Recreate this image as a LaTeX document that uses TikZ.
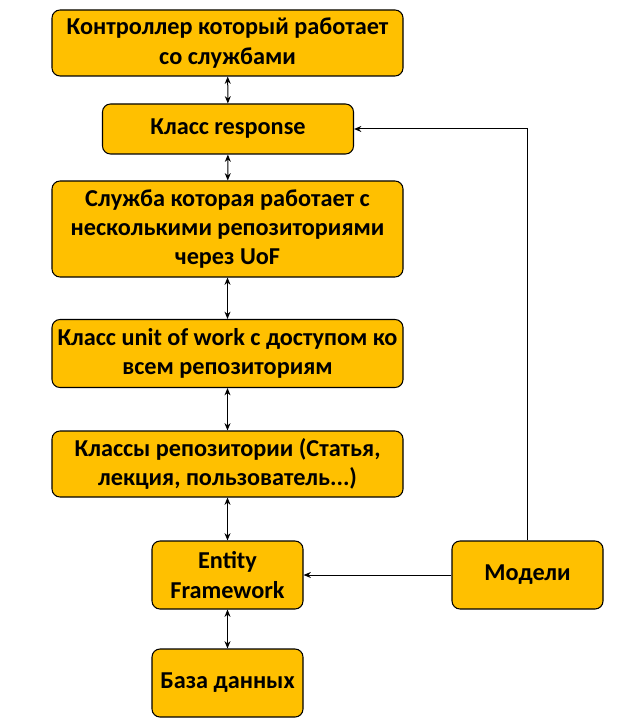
\documentclass[tikz,border=0pt]{standalone}
\usepackage{fontspec}
\setmainfont{Carlito}
\usetikzlibrary{arrows.meta}
\definecolor{boxfill}{HTML}{FFC000}
\tikzset{
    blok/.style={draw=black, line width=0.8pt, fill=boxfill, rounded corners=6pt, align=center, inner sep=0pt,
        font=\fontsize{18.2}{22}\selectfont\bfseries},
    wide/.style={blok, minimum width=263.25pt},
    mid/.style={blok, minimum width=188.25pt},
    small/.style={blok, minimum width=113.25pt, minimum height=51pt},
    dvoj/.style={{Stealth[length=5.5pt,width=4.5pt]}-{Stealth[length=5.5pt,width=4.5pt]}, line width=0.75pt},
    odin/.style={-{Stealth[length=5.5pt,width=4.5pt]}, line width=0.75pt}
}
\begin{document}
\begin{tikzpicture}[x=0.75pt, y=-0.75pt]
    \useasboundingbox (0,0) rectangle (633,723);
    % блоки
    \node[wide, minimum height=49.5pt] (ctrl) at (227.5,43) {Контроллер который работает\\со службами};
    \node[mid, minimum height=37.5pt] (resp) at (228,129) {Класс response};
    \node[wide, minimum height=72pt] (serv) at (227.5,229) {Служба которая работает с\\несколькими репозиториями\\через UoF};
    \node[wide, minimum height=51pt] (uow) at (227.5,353.5) {Класс unit of work с доступом ко\\всем репозиториям};
    \node[wide, minimum height=49.5pt] (repo) at (227.5,464) {Классы репозитории (Статья,\\лекция, пользователь...)};
    \node[small] (ef) at (227.5,575) {Entity\\Framework};
    \node[small] (db) at (227.5,683) {База данных};
    \node[small] (mod) at (527.5,575) {Модели};
    % связи
    \draw[dvoj] (ctrl) -- (resp);
    \draw[dvoj] (resp) -- (serv);
    \draw[dvoj] (serv) -- (uow);
    \draw[dvoj] (uow) -- (repo);
    \draw[dvoj] (repo) -- (ef);
    \draw[dvoj] (ef) -- (db);
    \draw[odin] (mod) -- (ef);
    \draw[odin] (mod.north) |- (resp.east);
\end{tikzpicture}
\end{document}
